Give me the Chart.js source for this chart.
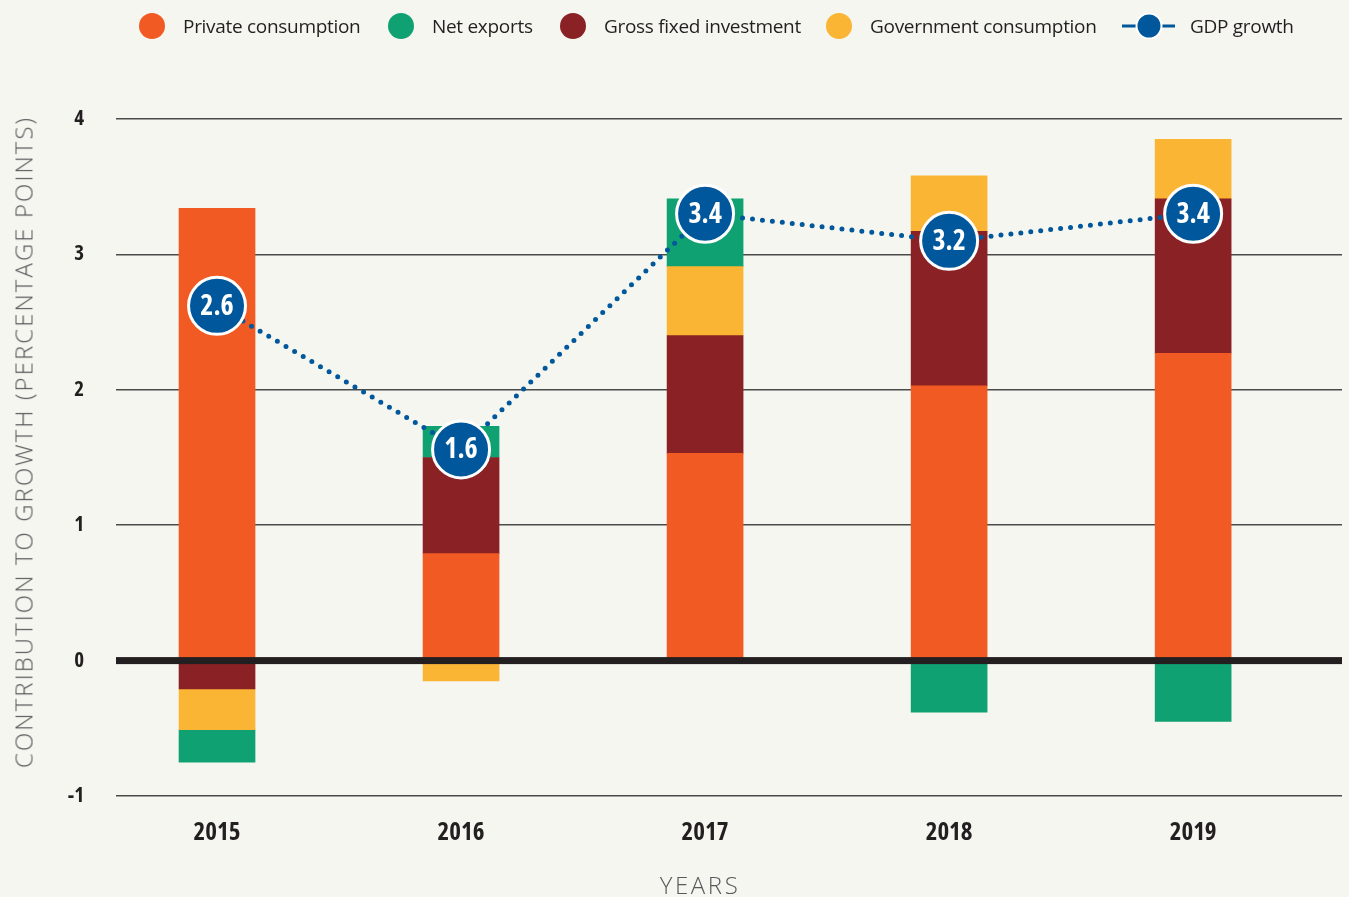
<!DOCTYPE html>
<html>
<head>
<meta charset="utf-8">
<script src="https://cdn.jsdelivr.net/npm/chart.js@4.4.1/dist/chart.umd.min.js"></script>
<style>
  html, body { margin: 0; padding: 0; background: #f6f6f0; }
  #wrap { position: relative; width: 1349px; height: 897px; overflow: hidden; }
  #chart { position: absolute; left: 0; top: 0; }
  .leg { position: absolute; top: 13px; height: 26px; display: flex; align-items: center; }
  .leg .dot { width: 26px; height: 26px; border-radius: 50%; }
  .leg span { position: absolute; white-space: nowrap; font: 19px "Open Sans", sans-serif; color: #231f20; letter-spacing: -0.3px; }
  .axis-title { position: absolute; white-space: nowrap; font-family: "Open Sans", sans-serif; font-weight: 300; color: #58595b; }
  #ytitle { left: 23px; top: 442px; font-size: 24px; transform: translate(-50%, -50%) rotate(-90deg); }
  #xtitle { left: 700px; top: 884px; font-size: 24px; transform: translate(-50%, -50%); }
</style>
</head>
<body>
<div id="wrap">
  <canvas id="chart" width="1349" height="897"></canvas>
  <div id="legend"></div>
  <div id="ytitle" class="axis-title">CONTRIBUTION TO GROWTH (PERCENTAGE POINTS)</div>
  <div id="xtitle" class="axis-title">YEARS</div>
</div>
<script>
// values (percentage points)
const years = ['2015', '2016', '2017', '2018', '2019'];
const privateConsumption = [3.34, 0.79, 1.53, 2.03, 2.27];
const grossFixedInvestment = [-0.21, 0.71, 0.87, 1.14, 1.14];
const governmentConsumption = [-0.30, -0.15, 0.51, 0.41, 0.44];
const netExports = [-0.24, 0.23, 0.50, -0.38, -0.45];
const gdpGrowth = ['2.6', '1.6', '3.4', '3.2', '3.4'];   // text in the circles
const gdpMarker = [2.62, 1.56, 3.30, 3.10, 3.30];        // where the circles sit

const colors = {
  private: '#f15a22',
  net: '#0fa172',
  gross: '#8a2125',
  gov: '#fbb535',
  gdp: '#00579b'
};

// condensed bold for numbers (Open Sans has a width axis)
const numFamily = '"Open Sans", "DejaVu Sans Condensed", sans-serif';

// legend (same order as the reference)
const legendItems = [
  { label: 'Private consumption', color: colors.private, left: 139 },
  { label: 'Net exports', color: colors.net, left: 388 },
  { label: 'Gross fixed investment', color: colors.gross, left: 560 },
  { label: 'Government consumption', color: colors.gov, left: 826 },
  { label: 'GDP growth', color: colors.gdp, left: 1122, line: true }
];
const legend = document.getElementById('legend');
legendItems.forEach(item => {
  const el = document.createElement('div');
  el.className = 'leg';
  el.style.left = item.left + 'px';
  if (item.line) {
    el.innerHTML = '<svg width="53" height="26"><line x1="0" y1="13" x2="53" y2="13" stroke="' + item.color +
      '" stroke-width="3"/><circle cx="27" cy="13" r="12.5" fill="' + item.color + '" stroke="#fff" stroke-width="2"/></svg>' +
      '<span style="left:68px">' + item.label + '</span>';
  } else {
    el.innerHTML = '<div class="dot" style="background:' + item.color + '"></div><span style="left:44px">' + item.label + '</span>';
  }
  legend.appendChild(el);
});

const toPoints = arr => arr.map((v, i) => ({ x: i, y: v }));

// zero line on top of the bars, then the numbers inside the GDP circles
const overlay = {
  id: 'overlay',
  afterDatasetsDraw(chart) {
    const { ctx, chartArea, scales } = chart;
    const y0 = scales.y.getPixelForValue(0);
    ctx.save();
    ctx.fillStyle = '#231f20';
    ctx.fillRect(chartArea.left, y0 - 3.5, chartArea.right - chartArea.left, 7);

    const meta = chart.getDatasetMeta(0);
    ctx.fillStyle = '#ffffff';
    ctx.font = 'bold condensed 28px ' + numFamily;
    ctx.textAlign = 'center';
    ctx.textBaseline = 'middle';
    meta.data.forEach((pt, i) => {
      ctx.fillText(gdpGrowth[i], pt.x, pt.y + 1);
    });
    ctx.restore();
  }
};

new Chart(document.getElementById('chart'), {
  type: 'bar',
  data: {
    datasets: [
      {
        type: 'line',
        label: 'GDP growth',
        data: toPoints(gdpMarker),
        stack: 'gdp',
        order: 0,
        borderColor: colors.gdp,
        borderWidth: 5,
        borderDash: [0, 10],
        borderCapStyle: 'round',
        pointRadius: 28.5,
        pointBackgroundColor: colors.gdp,
        pointBorderColor: '#ffffff',
        pointBorderWidth: 3,
        tension: 0
      },
      { label: 'Private consumption', data: toPoints(privateConsumption), backgroundColor: colors.private, order: 1 },
      { label: 'Gross fixed investment', data: toPoints(grossFixedInvestment), backgroundColor: colors.gross, order: 1 },
      { label: 'Government consumption', data: toPoints(governmentConsumption), backgroundColor: colors.gov, order: 1 },
      { label: 'Net exports', data: toPoints(netExports), backgroundColor: colors.net, order: 1 }
    ]
  },
  options: {
    responsive: false,
    animation: false,
    barThickness: 76,
    layout: { autoPadding: false, padding: { top: 119, right: 7, left: 0, bottom: 0 } },
    plugins: {
      legend: { display: false },
      tooltip: { enabled: false }
    },
    scales: {
      x: {
        type: 'linear',
        stacked: true,
        offset: false,
        min: -0.414,
        max: 4.61,
        afterBuildTicks: scale => {
          scale.ticks = scale.ticks.filter(t => Number.isInteger(t.value) && t.value >= 0 && t.value < years.length);
        },
        afterFit: scale => {
          scale.height = 101;
          scale.paddingLeft = 0;
          scale.paddingRight = 0;
        },
        grid: { display: false, drawTicks: false },
        border: { display: false },
        ticks: {
          stepSize: 1,
          includeBounds: false,
          padding: 22,
          color: '#231f20',
          font: { family: numFamily, size: 25, weight: 'bold semi-condensed' },
          callback: v => years[v] || ''
        }
      },
      y: {
        stacked: true,
        min: -1,
        max: 4,
        afterFit: scale => { scale.width = 116; },
        grid: {
          drawTicks: false,
          color: '#4a4a4a',
          lineWidth: ctx => (ctx.tick && ctx.tick.value === 0 ? 0 : 1.5)
        },
        border: { display: false },
        ticks: {
          stepSize: 1,
          padding: 32,
          color: '#231f20',
          font: { family: numFamily, size: 21, weight: 'bold semi-condensed' }
        }
      }
    }
  },
  plugins: [overlay]
});

// spread the axis titles to the width they take in the reference
function fitSpacing(el, target) {
  el.style.letterSpacing = '0px';
  const w = el.offsetWidth;
  const n = el.textContent.length;
  el.style.letterSpacing = ((target - w) / n) + 'px';
}
fitSpacing(document.getElementById('ytitle'), 652);
fitSpacing(document.getElementById('xtitle'), 81);
</script>
</body>
</html>
